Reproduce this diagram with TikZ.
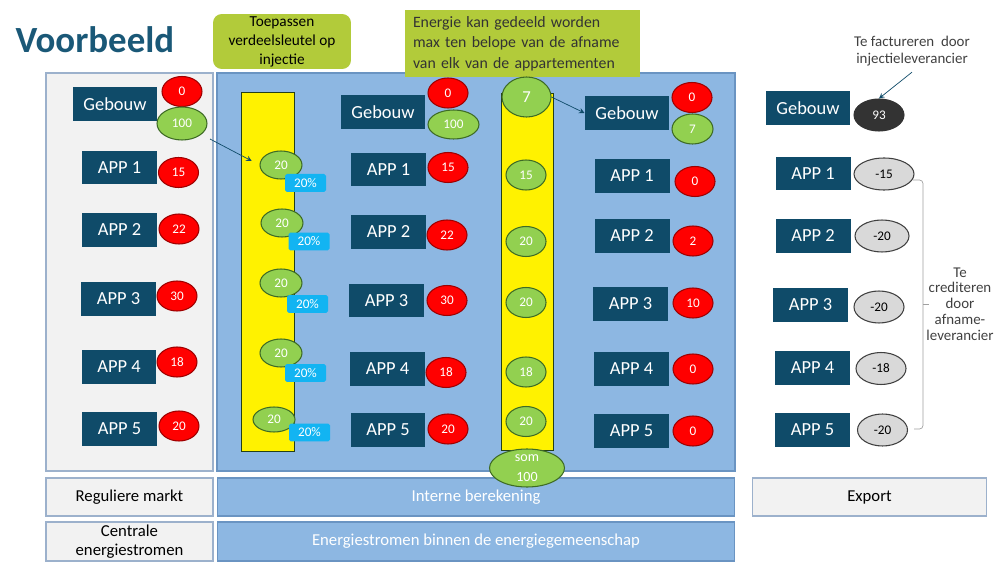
\documentclass[tikz,border=0pt]{standalone}
\usepackage{fontspec}
\setmainfont{Carlito}
\usetikzlibrary{shapes.geometric, arrows}
\definecolor{donker}{HTML}{0F4B69}
\definecolor{titelkleur}{HTML}{1A5877}
\definecolor{paneel}{HTML}{8DB7E2}
\definecolor{paneelrand}{HTML}{6A94C2}
\definecolor{grijsvlak}{HTML}{F2F2F2}
\definecolor{grijsrand}{HTML}{9CB1CC}
\definecolor{limoen}{HTML}{B2CB3A}
\definecolor{roodrand}{HTML}{9E0000}
\definecolor{groen}{HTML}{92D050}
\definecolor{groenrand}{HTML}{3E6B25}
\definecolor{cyaan}{HTML}{12B4F2}
\definecolor{lichtgrijs}{HTML}{D9D9D9}
\definecolor{tekstgrijs}{HTML}{404040}
\definecolor{haakgrijs}{HTML}{A0A0A0}

\begin{document}
\begin{tikzpicture}[x=0.02cm, y=-0.02cm, >=stealth, semithick,
  blok/.style={fill=donker, text=white, minimum width=1.5cm, minimum height=0.68cm, inner sep=0pt, font=\fontsize{10.5}{12}\selectfont},
  gebouw/.style={blok, minimum width=1.68cm},
  waarde/.style={ellipse, draw, minimum width=0.8cm, minimum height=0.6cm, inner sep=0pt, font=\fontsize{7.5}{8}\selectfont},
  afname/.style={waarde, fill=red, draw=roodrand, text=white},
  injectie/.style={waarde, fill=groen, draw=groenrand, text=white},
  krediet/.style={waarde, fill=lichtgrijs, draw=tekstgrijs, text=black, minimum width=1cm, minimum height=0.64cm},
  procent/.style={fill=cyaan, text=white, minimum width=0.82cm, minimum height=0.36cm, inner sep=0pt, rounded corners=1pt, font=\fontsize{7.5}{8}\selectfont},
  balk/.style={fill=yellow, draw=groenrand!60!black, thin},
  grijsvak/.style={fill=grijsvlak, draw=grijsrand, minimum height=0.76cm, inner sep=0pt, font=\fontsize{9.5}{10.5}\selectfont, align=center},
  blauwvak/.style={fill=paneel, draw=paneelrand, text=white, minimum width=10.36cm, minimum height=0.76cm, inner sep=0pt, font=\fontsize{9.5}{10.5}\selectfont},
  pijl/.style={->, draw=donker, thin},
  uitleg/.style={text=tekstgrijs, align=center, font=\fontsize{8.5}{9.5}\selectfont}
]
  \useasboundingbox (0,0) rectangle (1000,577);

  \node[anchor=west, inner sep=0pt, text=titelkleur, font=\fontsize{21}{25}\bfseries\selectfont] (titel) at (15,40) {Voorbeeld};

  % panelen
  \draw[fill=grijsvlak, draw=grijsrand] (46,73) rectangle (213,471);
  \draw[fill=paneel, draw=paneelrand] (217,73) rectangle (735,471);

  % onderste balken
  \node[grijsvak, minimum width=3.34cm] (markt) at (129.5,497) {Reguliere markt};
  \node[blauwvak] (intern) at (476,497) {Interne berekening};
  \node[grijsvak, minimum width=4.68cm] (export) at (869.5,497) {Export};
  \node[grijsvak, minimum width=3.34cm, minimum height=0.78cm] (centraal) at (129.5,541.5) {Centrale\\energiestromen};
  \node[blauwvak, minimum height=0.78cm] (gemeenschap) at (476,541.5) {Energiestromen binnen de energiegemeenschap};

  % tekstballonnen
  \node[fill=limoen, rounded corners=5pt, minimum width=2.76cm, minimum height=1.1cm, align=center, inner sep=0pt,
        font=\fontsize{8.7}{10.8}\selectfont] (verdeel) at (282,41.5) {Toepassen\\verdeelsleutel op\\injectie};
  \node[fill=limoen, text=black!80, text width=4.38cm, inner xsep=0.16cm, minimum height=1.34cm, align=left,
        font=\fontsize{9}{11.7}\selectfont] (deling) at (522.5,43.5) {Energie kan gedeeld worden\\max ten belope van de afname\\van elk van de appartementen};

  % links: reguliere markt
  \node[gebouw] (geb1) at (115,104) {Gebouw};
  \node[afname] (af10) at (182,91.5) {0};
  \node[injectie, minimum width=1cm, minimum height=0.66cm] (inj10) at (182,123.5) {100};
  \node[blok] (app11) at (119.5,167.5) {APP 1};
  \node[afname] (af11) at (178.5,172.5) {15};
  \node[blok] (app12) at (119.5,230) {APP 2};
  \node[afname] (af12) at (179,229) {22};
  \node[blok] (app13) at (118.5,299) {APP 3};
  \node[afname] (af13) at (177,296) {30};
  \node[blok] (app14) at (119,367) {APP 4};
  \node[afname] (af14) at (177,362) {18};
  \node[blok] (app15) at (119.5,429) {APP 5};
  \node[afname] (af15) at (179,426) {20};

  % verdeelsleutel
  \draw[balk] (241,92) rectangle (294,451);
  \node[injectie, minimum width=0.84cm, minimum height=0.56cm] (v1) at (281,165) {20};
  \node[injectie, minimum width=0.84cm, minimum height=0.56cm] (v2) at (282,223) {20};
  \node[injectie, minimum width=0.84cm, minimum height=0.56cm] (v3) at (281,283) {20};
  \node[injectie, minimum width=0.84cm, minimum height=0.56cm] (v4) at (281,353) {20};
  \node[injectie, minimum width=0.84cm, minimum height=0.5cm] (v5) at (274,419.5) {20};
  \node[procent] (p1) at (305.5,183) {20\%};
  \node[procent] (p2) at (309,241.5) {20\%};
  \node[procent] (p3) at (307.5,304) {20\%};
  \node[procent] (p4) at (305.5,373) {20\%};
  \node[procent] (p5) at (309.5,432.5) {20\%};

  % intern: afname per appartement
  \node[gebouw] (geb2) at (383,112) {Gebouw};
  \node[afname] (af20) at (448,93) {0};
  \node[injectie, minimum width=1.02cm, minimum height=0.58cm] (inj20) at (453.5,124.5) {100};
  \node[blok] (app21) at (388.5,169.5) {APP 1};
  \node[afname] (af21) at (448,167.5) {15};
  \node[blok] (app22) at (388.5,232) {APP 2};
  \node[afname] (af22) at (447,235) {22};
  \node[blok] (app23) at (386.5,300.5) {APP 3};
  \node[afname] (af23) at (447,300.5) {30};
  \node[blok] (app24) at (387.5,369) {APP 4};
  \node[afname] (af24) at (446,372.5) {18};
  \node[blok] (app25) at (388,430) {APP 5};
  \node[afname] (af25) at (448,429) {20};

  % gedeelde energie
  \draw[balk] (501,93) rectangle (553,450);
  \node[injectie, minimum width=0.98cm, minimum height=0.8cm, font=\fontsize{9.5}{10}\selectfont] (s7) at (526.5,97) {7};
  \node[injectie] (s1) at (526,175) {15};
  \node[injectie] (s2) at (526,241.5) {20};
  \node[injectie] (s3) at (526,302.5) {20};
  \node[injectie] (s4) at (526,372) {18};
  \node[injectie] (s5) at (526,421.5) {20};

  % na deling
  \node[gebouw] (geb3) at (627,113) {Gebouw};
  \node[afname] (af30) at (692,97.5) {0};
  \node[injectie, minimum width=0.82cm] (inj30) at (692.5,129) {7};
  \node[blok] (app31) at (632,176) {APP 1};
  \node[afname] (af31) at (695,181.5) {0};
  \node[blok] (app32) at (632,236) {APP 2};
  \node[afname] (af32) at (693,241) {2};
  \node[blok] (app33) at (630.5,304) {APP 3};
  \node[afname] (af33) at (693,303) {10};
  \node[blok] (app34) at (631.5,369) {APP 4};
  \node[afname] (af34) at (693,369) {0};
  \node[blok] (app35) at (631.5,431) {APP 5};
  \node[afname] (af35) at (693,431) {0};

  % export
  \node[gebouw] (geb4) at (808,108.5) {Gebouw};
  \node[waarde, fill=black!80, draw=black!80, text=white, minimum width=1cm, minimum height=0.64cm] (f93) at (879,115) {93};
  \node[blok] (app41) at (813,173.5) {APP 1};
  \node[krediet, minimum width=1.2cm] (k1) at (884,174) {-15};
  \node[blok] (app42) at (813,236) {APP 2};
  \node[krediet, minimum width=1.08cm] (k2) at (882,236) {-20};
  \node[blok] (app43) at (810.5,305) {APP 3};
  \node[krediet] (k3) at (879,307) {-20};
  \node[blok] (app44) at (812.5,368) {APP 4};
  \node[krediet] (k4) at (881,368.5) {-18};
  \node[blok] (app45) at (812.5,430) {APP 5};
  \node[krediet] (k5) at (882.5,430) {-20};

  \node[uitleg] (factuur) at (912,51) {Te factureren~~door\\injectieleverancier};
  \node[uitleg, font=\fontsize{8.5}{9}\selectfont] (credit) at (960,304) {Te\\crediteren\\door\\afname-\\leverancier};
  \draw[haakgrijs, thin, rounded corners=2pt] (913,180) -- (923,180) -- (923,429) -- (914,429);
  \draw[haakgrijs, thin] (923,304) -- (929,304);

  % pijlen
  \coordinate (start1) at (210,139);
  \draw[pijl, shorten >=5pt] (start1) -- (v1.west);
  \draw[pijl] (s7.east) -- (geb3.west);
  \draw[pijl] (factuur.south) -- (f93.north);

  \node[injectie, minimum width=1.5cm, minimum height=0.76cm, align=center, font=\fontsize{8}{11}\selectfont] (som) at (527,468) {som\\100};
\end{tikzpicture}
\end{document}
